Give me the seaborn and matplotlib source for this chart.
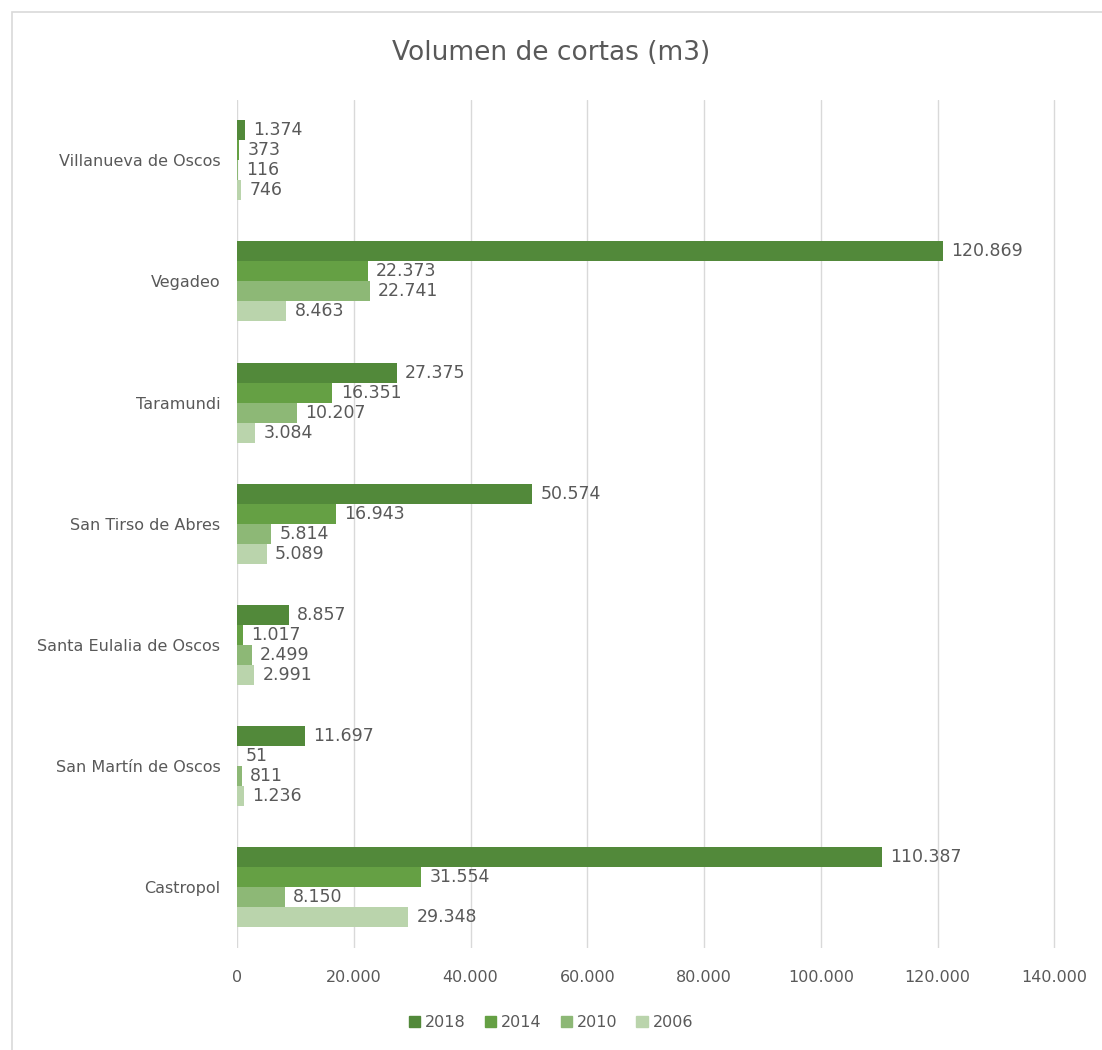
import pandas as pd
import numpy as np
import matplotlib.pyplot as plt
import seaborn as sns
from matplotlib.patches import Rectangle

# ------------------------------------------------------
# Data
# ------------------------------------------------------

municipios = [
    "Villanueva de Oscos",
    "Vegadeo",
    "Taramundi",
    "San Tirso de Abres",
    "Santa Eulalia de Oscos",
    "San Martín de Oscos",
    "Castropol",
]
years = ["2018", "2014", "2010", "2006"]

v2018 = [1374, 120869, 27375, 50574, 8857, 11697, 110387]
v2014 = [373, 22373, 16351, 16943, 1017, 51, 31554]
v2010 = [116, 22741, 10207, 5814, 2499, 811, 8150]
v2006 = [746, 8463, 3084, 5089, 2991, 1236, 29348]

xticks = [0, 20000, 40000, 60000, 80000, 100000, 120000, 140000]

df = pd.DataFrame(
    {
        "Municipio": municipios * 4,
        "Año": np.repeat(years, len(municipios)),
        "Volumen": v2018 + v2014 + v2010 + v2006,
    }
)

colors = ["#52893a", "#65a044", "#8db876", "#bad4ac"]
grey = "#595959"


def miles(v):
    return f"{int(v):,}".replace(",", ".")


# ------------------------------------------------------
# Plot
# ------------------------------------------------------

sns.set_theme(style="white")
plt.rcParams["font.family"] = ["DejaVu Sans"]

fig = plt.figure(figsize=(11.02, 10.5), dpi=100)
ax = fig.add_axes([0.215, 0.0975, 0.744, 0.8075])

sns.barplot(
    data=df,
    y="Municipio",
    x="Volumen",
    hue="Año",
    order=municipios,
    hue_order=years,
    palette=colors,
    width=0.66,
    gap=0,
    saturation=1,
    linewidth=0,
    edgecolor="none",
    orient="h",
    ax=ax,
)

for cont in ax.containers:
    vals = [b.get_width() for b in cont]
    ax.bar_label(cont, labels=[miles(v) for v in vals], padding=6,
                 fontsize=12.5, color=grey)

ax.set_xlim(0, 140400)
ax.set_xticks(xticks)
ax.set_xticklabels([miles(t) for t in xticks], fontsize=11.5, color=grey)
ax.tick_params(axis="y", labelsize=11.5, labelcolor=grey, length=0, pad=12)
ax.tick_params(axis="x", length=0, pad=16)
ax.xaxis.grid(True, color="#d9d9d9", lw=1)
ax.yaxis.grid(False)
ax.set_axisbelow(True)
for s in ax.spines.values():
    s.set_visible(False)
ax.set_xlabel("")
ax.set_ylabel("")

ax.legend_.remove()
handles = [plt.Rectangle((0, 0), 1, 1, color=c) for c in colors]
fig.legend(handles, years, loc="center", bbox_to_anchor=(0.5, 0.026), ncol=4,
           frameon=False, fontsize=11.5, handlelength=0.7, handleheight=0.7,
           handletextpad=0.3, columnspacing=1.2, labelcolor=grey)

fig.suptitle("Volumen de cortas (m3)", y=0.962, fontsize=19, color=grey)

fig.patches.append(Rectangle((12 / 1102, -0.01), 1.02, 1 - 12 / 1050 + 0.01,
                             transform=fig.transFigure, fill=False,
                             edgecolor="#d9d9d9", lw=1.2))

fig.savefig("out.png", dpi=100)
